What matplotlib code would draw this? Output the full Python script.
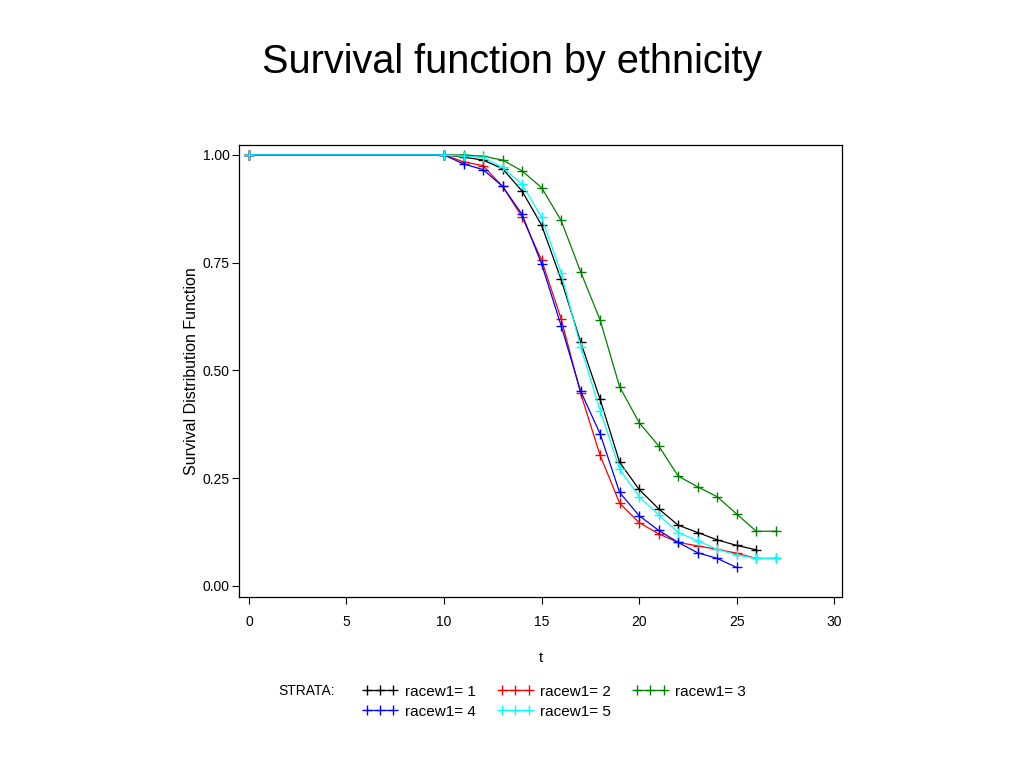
import matplotlib
matplotlib.use("Agg")
import matplotlib.pyplot as plt

plt.rcParams['font.family'] = ['Liberation Sans', 'DejaVu Sans']

# ---- data ----
t_1 = [0, 10, 11, 12, 13, 14, 15, 16, 17, 18, 19, 20, 21, 22, 23, 24, 25, 26]
s_1 = [1.0, 1.0, 0.995, 0.988, 0.968, 0.916, 0.837, 0.711, 0.566, 0.433,
       0.287, 0.224, 0.179, 0.141, 0.124, 0.107, 0.094, 0.084]

t_2 = [0, 10, 11, 12, 13, 14, 15, 16, 17, 18, 19, 20, 21, 22, 23, 24, 25, 26, 27]
s_2 = [1.0, 1.0, 0.984, 0.975, 0.927, 0.856, 0.756, 0.620, 0.447, 0.303,
       0.192, 0.147, 0.121, 0.101, 0.093, 0.085, 0.076, 0.064, 0.064]

t_3 = [0, 10, 11, 12, 13, 14, 15, 16, 17, 18, 19, 20, 21, 22, 23, 24, 25, 26, 27]
s_3 = [1.0, 1.0, 1.0, 0.997, 0.988, 0.963, 0.924, 0.848, 0.729, 0.617,
       0.462, 0.379, 0.325, 0.255, 0.230, 0.207, 0.167, 0.127, 0.127]

t_4 = [0, 10, 11, 12, 13, 14, 15, 16, 17, 18, 19, 20, 21, 22, 23, 24, 25]
s_4 = [1.0, 1.0, 0.979, 0.966, 0.927, 0.862, 0.747, 0.604, 0.452, 0.353,
       0.217, 0.163, 0.129, 0.101, 0.077, 0.064, 0.043]

t_5 = [0, 10, 11, 12, 13, 14, 15, 16, 17, 18, 19, 20, 21, 22, 23, 24, 25, 26, 27]
s_5 = [1.0, 1.0, 0.997, 0.994, 0.971, 0.932, 0.855, 0.726, 0.555, 0.407,
       0.271, 0.207, 0.165, 0.124, 0.105, 0.085, 0.072, 0.064, 0.064]

labels = ['racew1= 1', 'racew1= 2', 'racew1= 3', 'racew1= 4', 'racew1= 5']
colors = ['black', 'red', 'green', 'blue', 'cyan']
series = [(t_1, s_1), (t_2, s_2), (t_3, s_3), (t_4, s_4), (t_5, s_5)]

x_ticks = [0, 5, 10, 15, 20, 25, 30]
y_ticks = [0.0, 0.25, 0.50, 0.75, 1.00]
y_ticklabels = ['0.00', '0.25', '0.50', '0.75', '1.00']

# ---- figure ----
fig = plt.figure(figsize=(10.24, 7.68), dpi=100)
ax = fig.add_axes([0.2334, 0.2227, 0.5889, 0.5885])

handles = []
for (tt, ss), c, lab in zip(series, colors, labels):
    h, = ax.plot(tt, ss, color=c, lw=0.9, marker='+', markersize=6.5,
                 markeredgewidth=1.0, label=lab)
    handles.append(h)

ax.set_xlim(-0.51, 30.4)
ax.set_ylim(-0.0255, 1.023)
ax.set_xticks(x_ticks)
ax.set_yticks(y_ticks)
ax.set_yticklabels(y_ticklabels)
ax.tick_params(axis='both', direction='out', length=5, width=0.8,
               labelsize=10)
ax.tick_params(axis='y', pad=1.5)
ax.tick_params(axis='x', pad=8)
for sp in ax.spines.values():
    sp.set_linewidth(0.9)

ax.set_xlabel('t', fontsize=10.5, labelpad=16)
ax.set_ylabel('Survival Distribution Function', fontsize=11.5, labelpad=3)

fig.text(0.5, 0.919, 'Survival function by ethnicity', ha='center',
         va='center', fontsize=28.5)

# legend
fig.text(0.272, 0.1003, 'STRATA:', ha='left', va='center', fontsize=10)
order = [0, 3, 1, 4, 2]
leg = fig.legend([handles[i] for i in order], [labels[i] for i in order],
                 ncol=3, loc='upper left', bbox_to_anchor=(0.3477, 0.1166),
                 frameon=False, fontsize=11, numpoints=3, handlelength=2.35,
                 handletextpad=0.46, columnspacing=1.4, labelspacing=0.4,
                 borderaxespad=0.0)

fig.savefig('out.png', dpi=100)
